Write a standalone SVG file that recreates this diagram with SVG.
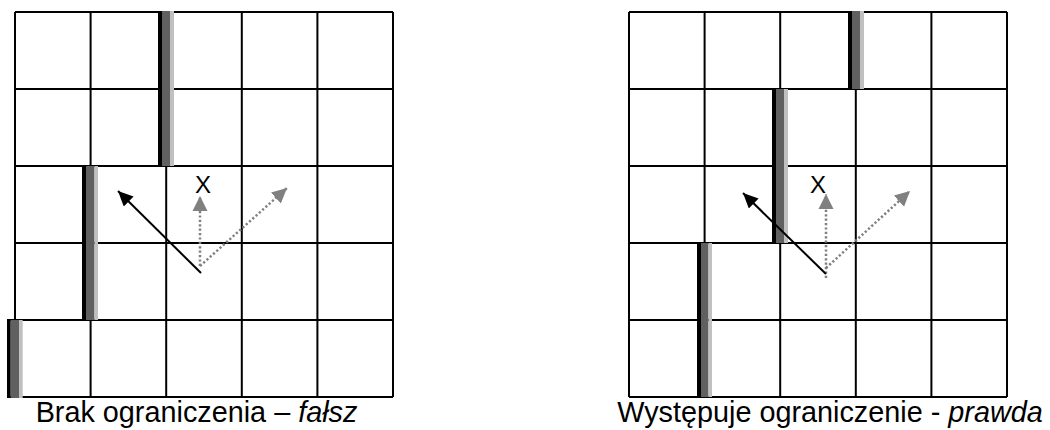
<svg xmlns="http://www.w3.org/2000/svg" width="1050" height="430" viewBox="0 0 1050 430">
<style>
.g{stroke:#000;stroke-width:2;fill:none}
.b{fill:#000}.d{fill:#606060}.l{fill:#c0c0c0}
.sol{stroke:#000;stroke-width:2;fill:none}
.dot{stroke:#808080;stroke-width:2.5;stroke-dasharray:2.2 2.2;fill:none}
.lbl{font-family:"Liberation Sans",Arial,sans-serif;font-size:24px;fill:#000}
.cap{font-family:"Liberation Sans",Arial,sans-serif;font-size:28.8px;fill:#000}
</style>
<defs>
<marker id="ab" markerUnits="userSpaceOnUse" markerWidth="16" markerHeight="14" refX="15" refY="7" orient="auto" viewBox="0 0 16 14"><path d="M0,0 L15,7 L0,14 z" fill="#000"/></marker>
<marker id="ag" markerUnits="userSpaceOnUse" markerWidth="16" markerHeight="16" refX="15" refY="8" orient="auto" viewBox="0 0 16 16"><path d="M0,0.5 L15,8 L0,15.5 z" fill="#808080"/></marker>
</defs>
<g id="grid-left">
<path class="g" d="M15,12V320M90.6,12V397M166.2,12V397M241.8,12V397M317.4,12V397M393,12V397M15,12H393M15,89H393M15,166H393M15,243H393M7,320H393M7,397H393"/>
</g>
<g id="walls-left">
<g id="wall-l1"><rect class="b" x="158" y="11" width="4" height="155"/><rect class="d" x="162" y="11" width="8" height="155"/><rect class="l" x="170" y="11" width="4" height="155"/></g>
<g id="wall-l2"><rect class="b" x="82" y="166" width="4" height="154"/><rect class="d" x="86" y="166" width="8.5" height="154"/><rect class="l" x="94.5" y="166" width="3.5" height="154"/></g>
<g id="wall-l3"><rect class="b" x="7" y="320" width="3.7" height="78"/><rect class="d" x="10.7" y="320" width="8.3" height="78"/><rect class="l" x="19" y="320" width="3.7" height="78"/></g>
</g>
<g id="grid-right">
<path class="g" d="M629,12V397M704.6,12V397M780.2,12V397M855.8,12V397M931.4,12V397M1007,12V397M629,12H1007M629,89H1007M629,166H1007M629,243H1007M629,320H1007M629,397H1007"/>
</g>
<g id="walls-right">
<g id="wall-r1"><rect class="b" x="848" y="11" width="4" height="78"/><rect class="d" x="852" y="11" width="8" height="78"/><rect class="l" x="860" y="11" width="4" height="78"/></g>
<g id="wall-r2"><rect class="b" x="772" y="89" width="4" height="154"/><rect class="d" x="776" y="89" width="8" height="154"/><rect class="l" x="784" y="89" width="4" height="154"/></g>
<g id="wall-r3"><rect class="b" x="697" y="243" width="4" height="154"/><rect class="d" x="701" y="243" width="7.5" height="154"/><rect class="l" x="708.5" y="243" width="3.5" height="154"/></g>
</g>
<g id="connectors">
<line class="dot" x1="200" y1="266" x2="200" y2="196" marker-end="url(#ag)"/>
<line class="dot" x1="200" y1="266" x2="287" y2="188" marker-end="url(#ag)"/>
<line class="sol" x1="201" y1="273" x2="118" y2="191" marker-end="url(#ab)"/>
<line class="dot" x1="826" y1="278" x2="826" y2="194" marker-end="url(#ag)"/>
<line class="dot" x1="826" y1="268" x2="910" y2="191" marker-end="url(#ag)"/>
<line class="sol" x1="826" y1="274" x2="743" y2="193" marker-end="url(#ab)"/>
</g>
<g id="labels">
<text class="lbl" x="203" y="193" text-anchor="middle">X</text>
<text class="lbl" x="818" y="193" text-anchor="middle">X</text>
<text class="cap" x="196.5" y="421.5" text-anchor="middle">Brak ograniczenia – <tspan font-style="italic">fałsz</tspan></text>
<text class="cap" x="830" y="421.5" text-anchor="middle">Występuje ograniczenie - <tspan font-style="italic">prawda</tspan></text>
</g>
</svg>
